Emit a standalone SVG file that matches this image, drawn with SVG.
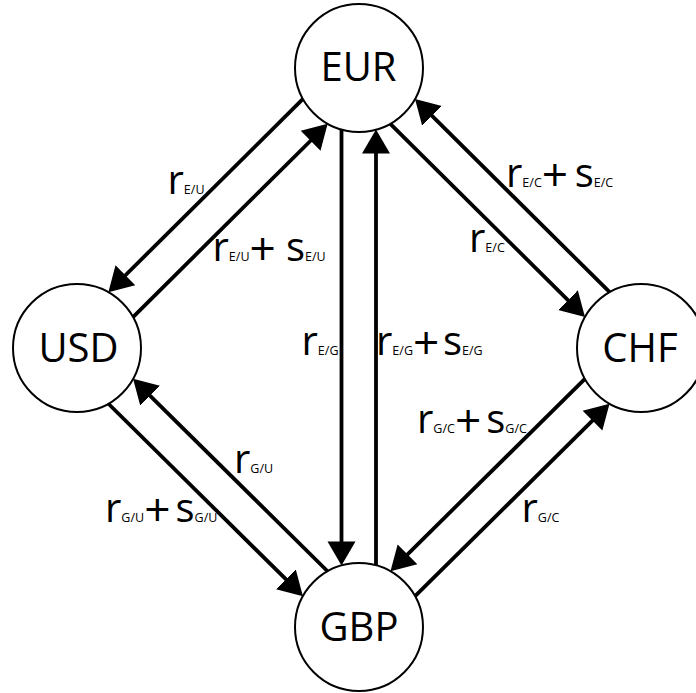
<svg xmlns="http://www.w3.org/2000/svg" width="696" height="693" viewBox="0 0 696 693">
<defs>
<style>
.node circle{fill:#fff;stroke:#000;stroke-width:2}
.node text{font-family:"Open Sans","Noto Sans",sans-serif;font-size:40px;text-anchor:middle;fill:#000}
.conn line{stroke:#000;stroke-width:3.8;fill:none}
.arr{marker-end:url(#ah)}
.lbl{font-family:"Open Sans","Noto Sans",sans-serif;font-size:40px;fill:#000}
.sub{font-size:12.5px}
.pl{font-size:46px}
</style>
<marker id="ah" markerUnits="userSpaceOnUse" markerWidth="26" markerHeight="30" viewBox="0 0 26 30" refX="12" refY="15" orient="auto">
<path d="M0,1 L24,15 L0,29 Z" fill="#000"/>
</marker>
</defs>
<rect width="696" height="693" fill="#fff"/>
<g id="connectors" class="conn">
<line class="arr" x1="302.99" y1="98.96" x2="116.87" y2="283.74"/>
<line class="arr" x1="133.01" y1="317.04" x2="319.13" y2="132.26"/>
<line class="arr" x1="609.65" y1="292.2" x2="423.53" y2="107.42"/>
<line class="arr" x1="390.35" y1="123.8" x2="576.47" y2="308.58"/>
<line class="arr" x1="341.5" y1="129.56" x2="341.5" y2="553.44"/>
<line class="arr" x1="376" y1="565.44" x2="376" y2="141.56"/>
<line class="arr" x1="327.55" y1="571.27" x2="141.6" y2="387.29"/>
<line class="arr" x1="108.45" y1="403.73" x2="294.4" y2="587.71"/>
<line class="arr" x1="584.93" y1="378.85" x2="398.98" y2="562.83"/>
<line class="arr" x1="415.07" y1="596.15" x2="601.02" y2="412.17"/>
</g>
<g id="labels">
<text class="lbl" x="167.5" y="194">r<tspan class="sub">E/U</tspan></text>
<text class="lbl" x="212.5" y="260.7">r<tspan class="sub">E/U</tspan><tspan class="pl" x="249.5" y="264.7">+</tspan><tspan x="286" y="260.7">s</tspan><tspan class="sub">E/U</tspan></text>
<text class="lbl" x="506" y="186.5">r<tspan class="sub">E/C</tspan><tspan class="pl" x="541.8" y="190.5">+</tspan><tspan x="574.7" y="186.5">s</tspan><tspan class="sub">E/C</tspan></text>
<text class="lbl" x="469" y="252">r<tspan class="sub">E/C</tspan></text>
<text class="lbl" x="301.5" y="355">r<tspan class="sub">E/G</tspan></text>
<text class="lbl" x="376" y="355">r<tspan class="sub">E/G</tspan><tspan class="pl" x="413" y="359">+</tspan><tspan x="443" y="355">s</tspan><tspan class="sub">E/G</tspan></text>
<text class="lbl" x="234" y="473.3">r<tspan class="sub">G/U</tspan></text>
<text class="lbl" x="105" y="521.5">r<tspan class="sub">G/U</tspan><tspan class="pl" x="144.2" y="525.5">+</tspan><tspan x="175.5" y="521.5">s</tspan><tspan class="sub">G/U</tspan></text>
<text class="lbl" x="417" y="433.3">r<tspan class="sub">G/C</tspan><tspan class="pl" x="455" y="437.3">+</tspan><tspan x="486.3" y="433.3">s</tspan><tspan class="sub">G/C</tspan></text>
<text class="lbl" x="521.5" y="521.5">r<tspan class="sub">G/C</tspan></text>
</g>
<g id="node-EUR" class="node"><circle cx="359" cy="68" r="64"/><text x="358.5" y="81">EUR</text></g>
<g id="node-USD" class="node"><circle cx="77" cy="348" r="64"/><text x="78.5" y="361.7">USD</text></g>
<g id="node-CHF" class="node"><circle cx="641" cy="348" r="64"/><text x="640" y="361.7">CHF</text></g>
<g id="node-GBP" class="node"><circle cx="359" cy="627" r="64"/><text x="359" y="640.5">GBP</text></g>
</svg>
